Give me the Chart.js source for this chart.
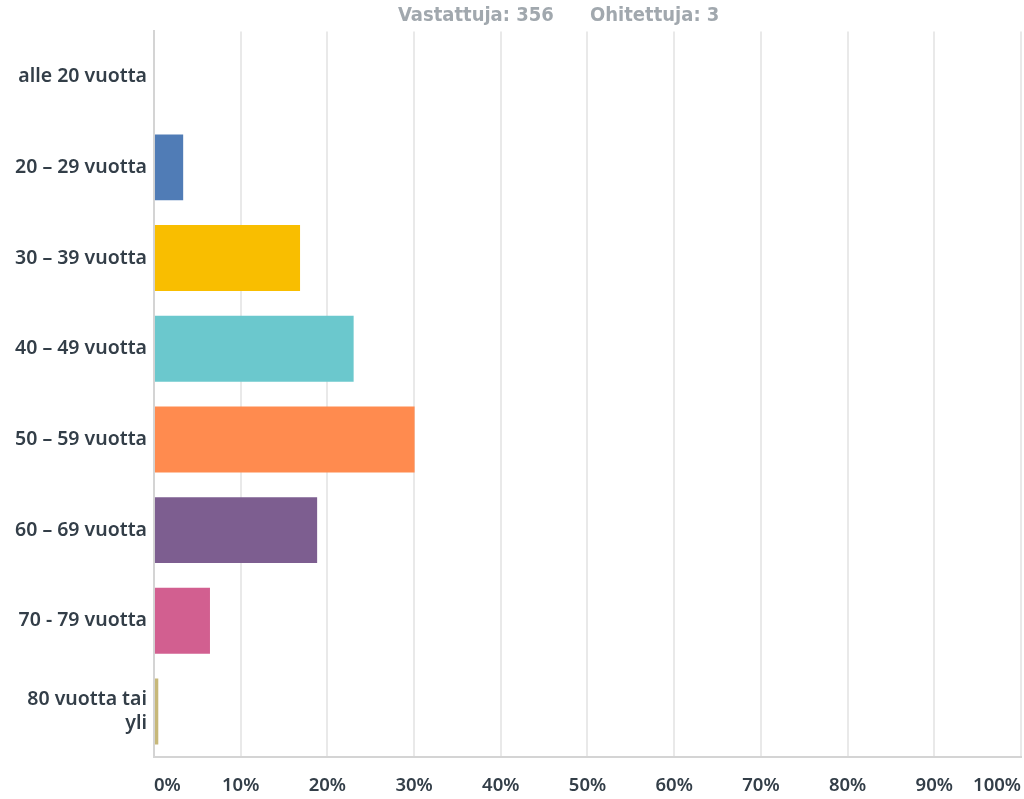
<!DOCTYPE html>
<html>
<head>
<meta charset="utf-8">
<script src="https://cdn.jsdelivr.net/npm/chart.js@4.4.1/dist/chart.umd.min.js"></script>
<style>
html,body{margin:0;padding:0;background:#fff;}
#wrap{width:1024px;height:799px;position:relative;}
</style>
</head>
<body>
<div id="wrap"><canvas id="c" width="1024" height="799"></canvas></div>
<script>
const categories = ["alle 20 vuotta", "20 – 29 vuotta", "30 – 39 vuotta", "40 – 49 vuotta", "50 – 59 vuotta", "60 – 69 vuotta", "70 - 79 vuotta", ["80 vuotta tai", "yli"]];
const percentages = [0, 3.37, 16.85, 23.03, 30.06, 18.82, 6.46, 0.5];
const barColors = ["#6fb86a", "#507cb6", "#f9be00", "#6bc8cd", "#ff8b4f", "#7d5e90", "#d25f90", "#c7b879"];
const tickValues = [0, 10, 20, 30, 40, 50, 60, 70, 80, 90, 100];
const titleParts = ["Vastattuja: 356", "Ohitettuja: 3"];

const textColor = "#333e48";
const fam = "'Noto Sans', 'Open Sans', sans-serif";

const titlePlugin = {
  id: 'summaryTitle',
  afterDraw(chart) {
    const ctx = chart.ctx;
    ctx.save();
    ctx.font = "bold 20px 'Liberation Sans Narrow', 'DejaVu Sans Condensed', sans-serif";
    ctx.fillStyle = "#a1a8ae";
    ctx.textBaseline = "middle";
    ctx.textAlign = "left";
    ctx.fillText(titleParts[0], 398, 16);
    ctx.fillText(titleParts[1], 590, 16);
    ctx.restore();
  }
};

new Chart(document.getElementById('c'), {
  type: 'bar',
  data: {
    labels: categories,
    datasets: [{
      data: percentages,
      backgroundColor: barColors,
      borderWidth: 0,
      barPercentage: 0.727,
      categoryPercentage: 1.0
    }]
  },
  plugins: [titlePlugin],
  options: {
    indexAxis: 'y',
    responsive: false,
    animation: false,
    layout: {padding: {top: 30, right: 3, left: 8, bottom: 1}},
    plugins: {
      legend: {display: false},
      tooltip: {enabled: false},
      title: {display: false}
    },
    scales: {
      x: {
        min: 0, max: 100,
        afterBuildTicks(scale) { scale.ticks = tickValues.map(v => ({value: v})); },
        grid: {color: "#e9e9e9", lineWidth: 2, drawTicks: true, tickLength: 17, tickColor: "rgba(0,0,0,0)"},
        border: {display: true, color: "#d4d4d4", width: 2},
        ticks: {
          align: 'inner',
          padding: 1,
          color: textColor,
          font: {family: fam, size: 18.5, weight: 600},
          callback: v => v + "%"
        }
      },
      y: {
        grid: {display: false, drawTicks: false},
        border: {display: true, color: "#d4d4d4", width: 2},
        ticks: {
          padding: 7,
          color: textColor,
          font: {family: fam, size: 19.5, weight: 600, lineHeight: 1.25}
        }
      }
    }
  }
});
</script>
</body>
</html>
